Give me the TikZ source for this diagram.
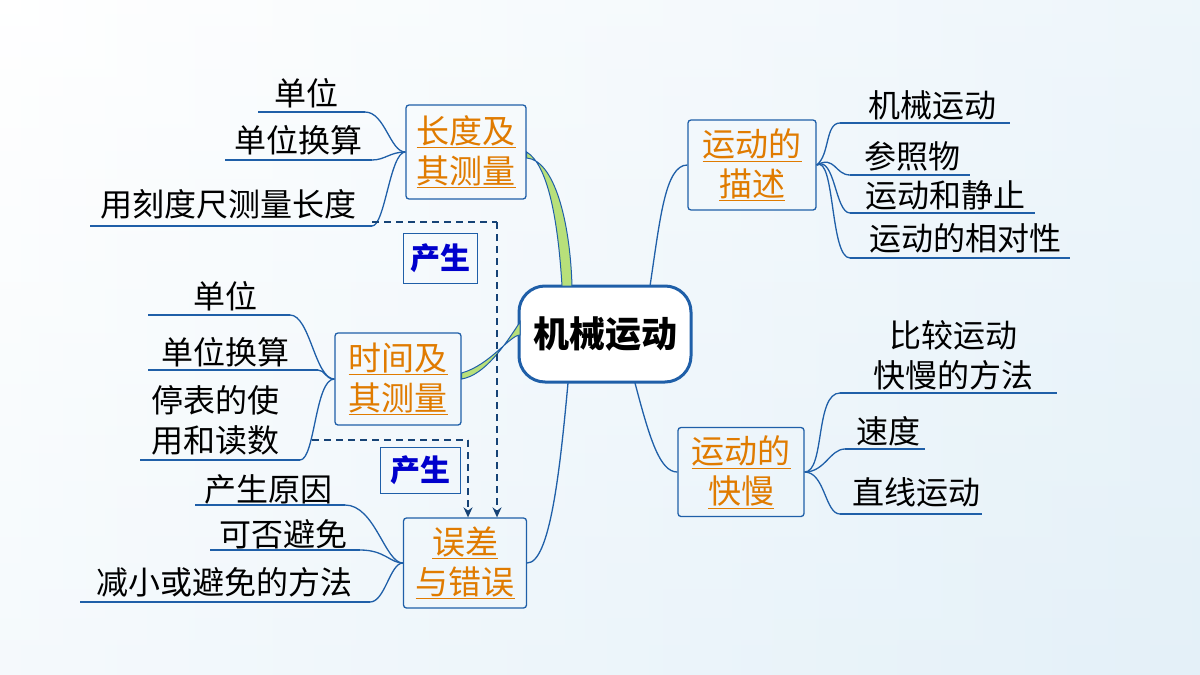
\documentclass[tikz,border=0pt]{standalone}
\usepackage{fontspec}
\setmainfont{Noto Sans CJK SC}
\usetikzlibrary{arrows.meta}
\definecolor{bl}{HTML}{1F5FA8}
\definecolor{org}{HTML}{E07B00}
\definecolor{bgb}{HTML}{D6E9F5}
\definecolor{gr}{HTML}{B8E07A}
\tikzset{
 box/.style={draw=bl,line width=1.3pt,rounded corners=3pt,align=center,text=org,font=\fontsize{33}{40}\selectfont,inner sep=2pt},
 leaf/.style={font=\fontsize{32}{40}\selectfont,align=center,inner sep=0pt},
 ul/.style={draw=bl,line width=1.3pt},
 br/.style={draw=bl,line width=1.3pt},
 lab/.style={draw=bl,line width=0.8pt,text=blue!80!black,font=\bfseries\fontsize{30}{34}\selectfont,minimum width=74pt,minimum height=50pt},
 dsh/.style={draw=bl!70!black,line width=1.6pt,dash pattern=on 7pt off 5pt}
}
\begin{document}
\begin{tikzpicture}[x=1pt,y=-1pt]
\useasboundingbox (0,0) rectangle (1200,675);
\shade[top color=white,bottom color=bgb!60,shading angle=0] (0,0) rectangle (1200,675);
\shade[left color=white,right color=bgb!70,opacity=0.6] (0,0) rectangle (1200,675);
% center
\node[draw=bl,line width=3pt,rounded corners=26pt,minimum width=172pt,minimum height=96pt,fill=white,font=\bfseries\fontsize{36}{40}\selectfont] (c) at (605,334) {机械运动};
% boxes
\node[box,minimum width=120pt,minimum height=94pt] (b1) at (466,152) {\underline{长度及}\\\underline{其测量}};
\node[box,minimum width=126pt,minimum height=92pt] (b2) at (398,379) {\underline{时间及}\\\underline{其测量}};
\node[box,minimum width=123pt,minimum height=90pt] (b3) at (465,563) {\underline{误差}\\\underline{与错误}};
\node[box,minimum width=128pt,minimum height=90pt] (b4) at (752,165) {\underline{运动的}\\\underline{描述}};
\node[box,minimum width=126pt,minimum height=89pt] (b5) at (741,472) {\underline{运动的}\\\underline{快慢}};
% main branches
\filldraw[fill=gr,draw=bl,line width=1pt] (562,286) .. controls (558,220) and (548,165) .. (b1.east) -- ([yshift=-6pt]b1.east) .. controls (554,160) and (570,220) .. (572,286) -- cycle;
\filldraw[fill=gr,draw=bl,line width=1pt] (520,322) .. controls (505,345) and (485,375) .. (b2.east) -- ([yshift=6pt]b2.east) .. controls (490,365) and (510,335) .. (520,335) -- cycle;
\draw[br] (568,383) .. controls (560,470) and (550,563) .. (b3.east);
\draw[br] (650,286) .. controls (660,220) and (665,165) .. (b4.west);
\draw[br] (635,383) .. controls (650,440) and (660,472) .. (b5.west);
% left group 1
\node[leaf] (l11) at (306,93) {单位};
\node[leaf] (l12) at (298,140) {单位换算};
\node[leaf] (l13) at (228,204) {用刻度尺测量长度};
\coordinate (u11) at (365,112); \coordinate (u12) at (372,160); \coordinate (u13) at (372,226);
\draw[ul] (258,112) -- (u11); \draw[ul] (225,160) -- (u12); \draw[ul] (90,226) -- (u13);
\draw[br] (b1.west) .. controls (390,152) and (385,112) .. (u11);
\draw[br] (b1.west) .. controls (390,152) and (385,160) .. (u12);
\draw[br] (b1.west) .. controls (390,152) and (385,226) .. (u13);
% left group 2
\node[leaf] (l21) at (225,296) {单位};
\node[leaf] (l22) at (225,352) {单位换算};
\node[leaf,text width=140pt] (l23) at (215,420) {停表的使\\用和读数};
\coordinate (u21) at (290,315); \coordinate (u22) at (318,370); \coordinate (u23) at (300,460);
\draw[ul] (148,315) -- (u21); \draw[ul] (148,370) -- (u22); \draw[ul] (140,460) -- (u23);
\draw[br] (b2.west) .. controls (315,379) and (310,315) .. (u21);
\draw[br] (b2.west) .. controls (325,379) and (325,370) .. (u22);
\draw[br] (b2.west) .. controls (315,379) and (315,460) .. (u23);
% left group 3
\node[leaf] (l31) at (268,489) {产生原因};
\node[leaf] (l32) at (283,534) {可否避免};
\node[leaf] (l33) at (224,582) {减小或避免的方法};
\coordinate (u31) at (345,505); \coordinate (u32) at (360,550); \coordinate (u33) at (370,602);
\draw[ul] (195,505) -- (u31); \draw[ul] (210,550) -- (u32); \draw[ul] (80,602) -- (u33);
\draw[br] (b3.west) .. controls (385,563) and (375,505) .. (u31);
\draw[br] (b3.west) .. controls (390,563) and (385,550) .. (u32);
\draw[br] (b3.west) .. controls (390,563) and (385,602) .. (u33);
% right group 1
\node[leaf] (r11) at (932,105) {机械运动};
\node[leaf] (r12) at (912,156) {参照物};
\node[leaf] (r13) at (945,195) {运动和静止};
\node[leaf] (r14) at (965,238) {运动的相对性};
\coordinate (v11) at (840,123); \coordinate (v12) at (850,175); \coordinate (v13) at (850,213); \coordinate (v14) at (850,258);
\draw[ul] (v11) -- (1010,123); \draw[ul] (v12) -- (970,175); \draw[ul] (v13) -- (1035,213); \draw[ul] (v14) -- (1070,258);
\draw[br] (b4.east) .. controls (830,155) and (825,123) .. (v11);
\draw[br] (b4.east) .. controls (835,155) and (835,175) .. (v12);
\draw[br] (b4.east) .. controls (835,155) and (835,213) .. (v13);
\draw[br] (b4.east) .. controls (835,155) and (830,258) .. (v14);
% right group 2
\node[leaf] (r21) at (953,355) {比较运动\\快慢的方法};
\node[leaf] (r22) at (888,431) {速度};
\node[leaf] (r23) at (916,492) {直线运动};
\coordinate (v21) at (840,393); \coordinate (v22) at (845,449); \coordinate (v23) at (840,514);
\draw[ul] (v21) -- (1057,393); \draw[ul] (v22) -- (925,449); \draw[ul] (v23) -- (982,514);
\draw[br] (b5.east) .. controls (825,472) and (815,393) .. (v21);
\draw[br] (b5.east) .. controls (825,472) and (830,449) .. (v22);
\draw[br] (b5.east) .. controls (825,472) and (825,514) .. (v23);
% dashed
\node[lab] (p1) at (440,258) {产生};
\node[lab,minimum width=80pt,minimum height=46pt] (p2) at (420,470) {产生};
\coordinate (d1) at (372,222); \coordinate (d1c) at (497,222);
\coordinate (d2) at (312,440); \coordinate (d2c) at (468,440);
\draw[dsh] (d1) -- (d1c);
\draw[dsh,-{Stealth[length=10pt,width=9pt]}] (d1c) -- ([xshift=32pt]b3.north);
\draw[dsh] (d2) -- (d2c);
\draw[dsh,-{Stealth[length=10pt,width=9pt]}] (d2c) -- ([xshift=3pt]b3.north);
\end{tikzpicture}
\end{document}
